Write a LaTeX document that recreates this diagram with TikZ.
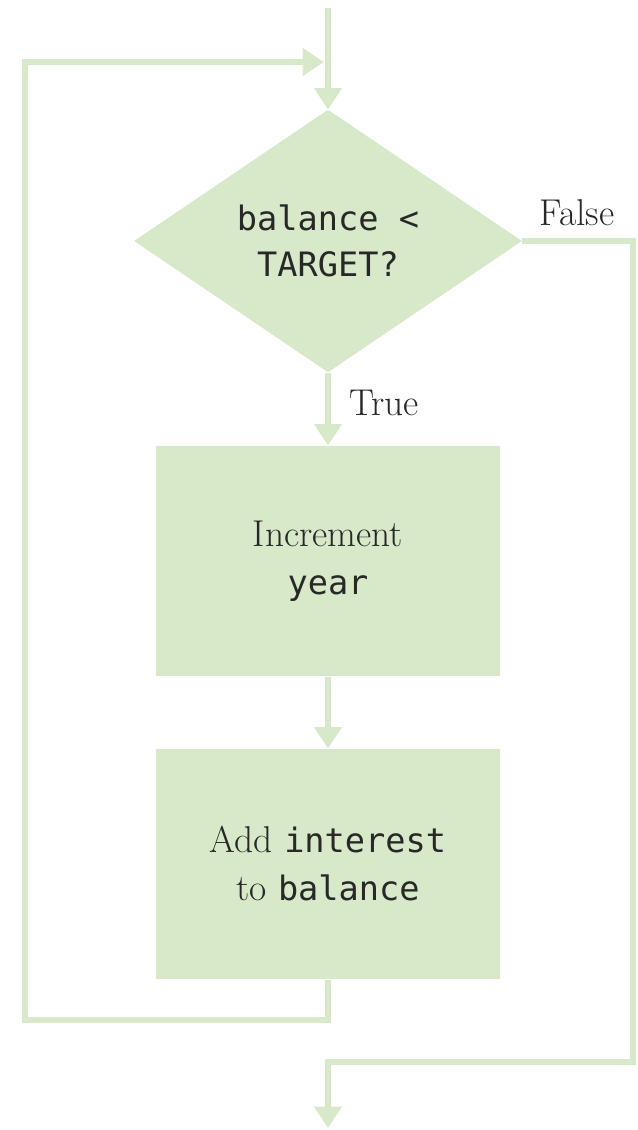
\documentclass[tikz,border=0pt]{standalone}
\usepackage{fontspec}
\setmonofont{DejaVu Sans Mono}[Scale=0.9]
\usetikzlibrary{arrows.meta,shapes.geometric}
\definecolor{flowgreen}{RGB}{215,233,200}
\definecolor{inkgray}{RGB}{40,40,40}
\tikzset{
	flow/.style={draw=flowgreen, line width=5pt, -{Triangle[width=20pt,length=16pt]}},
	stepbox/.style={fill=flowgreen, text=inkgray, minimum width=258pt, minimum height=173pt, inner sep=0pt, align=center, font=\fontsize{28}{36}\selectfont},
	test/.style={diamond, fill=flowgreen, text=inkgray, minimum width=291pt, minimum height=197pt, inner sep=0pt, align=center, font=\ttfamily\fontsize{28}{34}\selectfont},
	lbl/.style={text=inkgray, font=\fontsize{28}{34}\selectfont, inner sep=0pt}
}

\begin{document}
\begin{tikzpicture}[x=0.75pt,y=-0.75pt]
		%%%%% START %%%%%
		\useasboundingbox (0,0) rectangle (637,1130);
		
		\node[test] (cond) at (328,241) {balance <\\TARGET?};
		\node[stepbox] (incr) at (328,561) {Increment\\\texttt{year}};
		\node[stepbox] (addint) at (328,864) {Add \texttt{interest}\\to \texttt{balance}};
		
		\coordinate (top) at (328,8);
		\coordinate (back) at (25,1020);
		\coordinate (join) at (324,62);
		\coordinate (fr) at (633,1062);
		\coordinate (exit) at (328,1128);
		
		\draw[flow] (top) -- (cond.north);
		\draw[flow] (cond.south) -- (incr.north);
		\draw[flow] (incr.south) -- (addint.north);
		\draw[flow] (addint.south) |- (back) |- (join);
		\draw[flow] (cond.east) -| (fr) -| (exit);
		
		\node[lbl] (tlbl) at (384,403) {True};
		\node[lbl] (flbl) at (577,213) {False};
		
		%%%%% END %%%%%
	\end{tikzpicture}
\end{document}
